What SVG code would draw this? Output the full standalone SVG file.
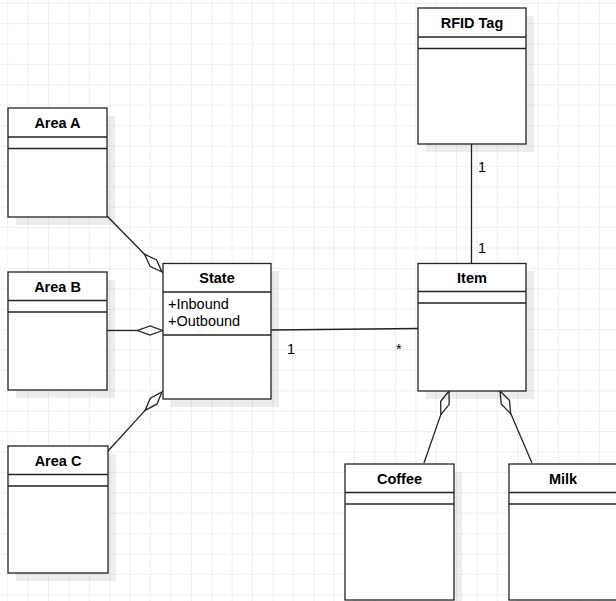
<svg xmlns="http://www.w3.org/2000/svg" width="616" height="601" viewBox="0 0 616 601">
<defs>
<pattern id="grid" patternUnits="userSpaceOnUse" x="7.3" y="2.7" width="20.4" height="20.4">
<path d="M0 0.5H20.4M0.5 0V20.4" fill="none" stroke="#eeeeee" stroke-width="1"/>
</pattern>
<style>
.box{fill:#fff;stroke:#222;stroke-width:1.3}
.shadow{fill:#000;fill-opacity:0.07}
.sep{stroke:#222;stroke-width:1.3}
.title{font-family:"Liberation Sans",Arial,sans-serif;font-size:14.5px;font-weight:bold;fill:#000;text-anchor:middle}
.attr{font-family:"Liberation Sans",Arial,sans-serif;font-size:14.5px;fill:#000}
.lbl{font-family:"Liberation Sans",Arial,sans-serif;font-size:14.5px;fill:#000}
.edge{fill:none;stroke:#222;stroke-width:1.3}
.dia{fill:#fff;stroke:#222;stroke-width:1.3;stroke-linejoin:miter}
</style>
</defs>
<rect width="616" height="601" fill="#fff"/>
<rect width="616" height="601" fill="url(#grid)"/>

<g id="connectors">
<line class="edge" x1="471.5" y1="144" x2="471.5" y2="263"/>
<line class="edge" x1="271" y1="330" x2="418" y2="328.5"/>
<line class="edge" x1="107" y1="216" x2="144.5" y2="254.2"/>
<polygon class="dia" points="162,272 150,266.3 144.5,254.2 156.5,260"/>
<line class="edge" x1="107" y1="330.5" x2="137.5" y2="330.5"/>
<polygon class="dia" points="162.5,330.5 150,335 137.5,330.5 150,326"/>
<line class="edge" x1="108" y1="451" x2="145.1" y2="410.4"/>
<polygon class="dia" points="162,392 156.9,404.2 145.1,410.4 150.3,398.2"/>
<line class="edge" x1="440.8" y1="414.6" x2="424" y2="463"/>
<polygon class="dia" points="449,391 449.2,404.3 440.8,414.6 440.7,401.3"/>
<line class="edge" x1="510.7" y1="413.6" x2="532" y2="463"/>
<polygon class="dia" points="500,391 509.4,400.4 510.7,413.6 501.3,404.2"/>
<text class="lbl" x="478" y="172">1</text>
<text class="lbl" x="478" y="253">1</text>
<text class="lbl" x="287" y="354">1</text>
<text class="lbl" x="396" y="354">*</text>
</g>

<g id="rfid">
<rect class="shadow" x="426" y="16" width="108" height="136"/>
<rect class="box" x="418" y="8" width="108" height="136"/>
<line class="sep" x1="418" y1="37" x2="526" y2="37"/>
<line class="sep" x1="418" y1="48.5" x2="526" y2="48.5"/>
<text class="title" x="472" y="28">RFID Tag</text>
</g>

<g id="areaA">
<rect class="shadow" x="16" y="116" width="99" height="109"/>
<rect class="box" x="8" y="108" width="99" height="109"/>
<line class="sep" x1="8" y1="137" x2="107" y2="137"/>
<line class="sep" x1="8" y1="148.5" x2="107" y2="148.5"/>
<text class="title" x="57.5" y="128">Area A</text>
</g>

<g id="areaB">
<rect class="shadow" x="16" y="280" width="99" height="118"/>
<rect class="box" x="8" y="272" width="99" height="118"/>
<line class="sep" x1="8" y1="300.5" x2="107" y2="300.5"/>
<line class="sep" x1="8" y1="312" x2="107" y2="312"/>
<text class="title" x="57.5" y="292">Area B</text>
</g>

<g id="areaC">
<rect class="shadow" x="16" y="454" width="100" height="127"/>
<rect class="box" x="8" y="446" width="100" height="127"/>
<line class="sep" x1="8" y1="474.5" x2="108" y2="474.5"/>
<line class="sep" x1="8" y1="486" x2="108" y2="486"/>
<text class="title" x="58" y="466">Area C</text>
</g>

<g id="state">
<rect class="shadow" x="171" y="271" width="108" height="136"/>
<rect class="box" x="163" y="263.5" width="108" height="135.5"/>
<line class="sep" x1="163" y1="292" x2="271" y2="292"/>
<line class="sep" x1="163" y1="335" x2="271" y2="335"/>
<text class="title" x="217" y="283">State</text>
<text class="attr" x="168" y="309">+Inbound</text>
<text class="attr" x="168" y="325.5">+Outbound</text>
</g>

<g id="item">
<rect class="shadow" x="426" y="271" width="108" height="128"/>
<rect class="box" x="418" y="263.5" width="108" height="127.5"/>
<line class="sep" x1="418" y1="291.5" x2="526" y2="291.5"/>
<line class="sep" x1="418" y1="303" x2="526" y2="303"/>
<text class="title" x="472" y="283">Item</text>
</g>

<g id="coffee">
<rect class="shadow" x="353" y="472" width="109" height="136"/>
<rect class="box" x="345" y="464" width="109" height="136"/>
<line class="sep" x1="345" y1="492.5" x2="454" y2="492.5"/>
<line class="sep" x1="345" y1="504" x2="454" y2="504"/>
<text class="title" x="399.5" y="484">Coffee</text>
</g>

<g id="milk">
<rect class="shadow" x="517" y="472" width="108" height="136"/>
<rect class="box" x="509" y="464" width="108" height="136"/>
<line class="sep" x1="509" y1="492.5" x2="617" y2="492.5"/>
<line class="sep" x1="509" y1="504" x2="617" y2="504"/>
<text class="title" x="563" y="484">Milk</text>
</g>
</svg>
